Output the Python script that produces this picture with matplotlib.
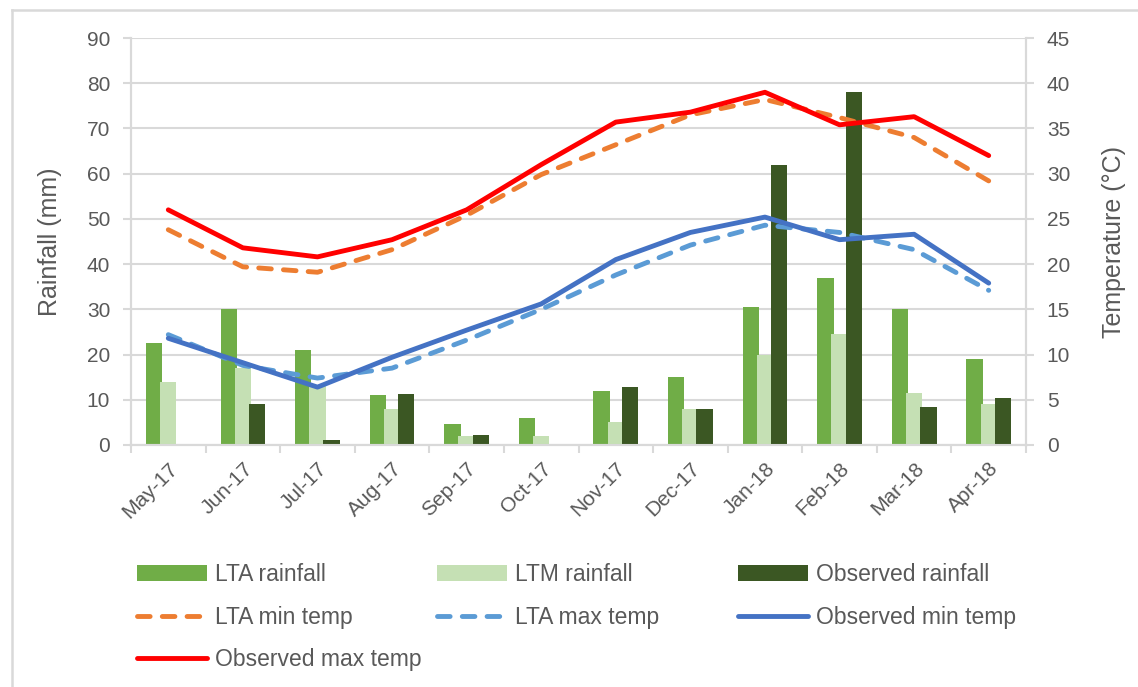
import matplotlib
matplotlib.use("Agg")
import matplotlib.pyplot as plt
import numpy as np
from matplotlib.lines import Line2D

months = ["May-17", "Jun-17", "Jul-17", "Aug-17", "Sep-17", "Oct-17",
          "Nov-17", "Dec-17", "Jan-18", "Feb-18", "Mar-18", "Apr-18"]
lta_rain = [22.5, 30, 21, 11, 4.7, 6, 12, 15, 30.5, 37, 30, 19]
ltm_rain = [14, 17, 13, 8, 2, 2, 5, 8, 20, 24.5, 11.5, 9]
obs_rain = [0, 9, 1.2, 11.3, 2.2, 0, 12.8, 8, 62, 78, 8.5, 10.5]
lta_min_temp = [23.8, 19.7, 19.1, 21.6, 25.4, 29.9, 33.2, 36.5, 38.2, 36.2, 34, 29.2]
lta_max_temp = [12.2, 8.8, 7.4, 8.5, 11.6, 15, 18.8, 22.1, 24.3, 23.5, 21.6, 17.1]
obs_min_temp = [11.8, 9.1, 6.4, 9.7, 12.7, 15.6, 20.5, 23.5, 25.2, 22.7, 23.3, 17.9]
obs_max_temp = [26.0, 21.8, 20.8, 22.7, 26.0, 31.0, 35.7, 36.8, 39.0, 35.4, 36.3, 32.0]

plt.rcParams['font.family'] = ['Liberation Sans', 'DejaVu Sans']

W, H = 1138, 687
fig = plt.figure(figsize=(W / 100, H / 100), dpi=100)
frame_c = '#d9d9d9'
fig.add_artist(Line2D([12 / W, 12 / W], [0, 1 - 10 / H], transform=fig.transFigure,
                      color=frame_c, lw=1.8))
fig.add_artist(Line2D([12 / W, 1], [1 - 10 / H, 1 - 10 / H], transform=fig.transFigure,
                      color=frame_c, lw=1.8))

ax = fig.add_axes([131 / W, 1 - 445 / H, (1026 - 131) / W, (445 - 38) / H])
ax2 = ax.twinx()

x = np.arange(len(months))
w = 0.22
step = 0.19
grid_c = '#d9d9d9'
txt_c = '#595959'
b1 = ax.bar(x - step, lta_rain, w, color='#70AD47', zorder=2, label='LTA rainfall')
b2 = ax.bar(x, ltm_rain, w, color='#C5E0B4', zorder=3, label='LTM rainfall')
b3 = ax.bar(x + step, obs_rain, w, color='#3B5723', zorder=4, label='Observed rainfall')

lw = 3.5
dash = (0, (2.6, 2.5))
l1, = ax2.plot(x, lta_min_temp, color='#ED7D31', lw=lw, ls=dash, dash_capstyle='round',
               solid_capstyle='round', label='LTA min temp')
l2, = ax2.plot(x, lta_max_temp, color='#5B9BD5', lw=lw, ls=dash, dash_capstyle='round',
               solid_capstyle='round', label='LTA max temp')
l3, = ax2.plot(x, obs_min_temp, color='#4472C4', lw=lw, solid_capstyle='round',
               label='Observed min temp')
l4, = ax2.plot(x, obs_max_temp, color='#FF0000', lw=lw, solid_capstyle='round',
               label='Observed max temp')

ax.set_xlim(-0.5, len(months) - 0.5)
ax.set_ylim(0, 90)
ax.set_yticks(np.arange(0, 91, 10))
ax2.set_ylim(0, 45)
ax2.set_yticks(np.arange(0, 46, 5))
ax.yaxis.grid(True, color=grid_c, lw=1.5, zorder=0)
ax.set_axisbelow(True)

ax.set_xticks(x)
ax.set_xticklabels(months, rotation=45, ha='right', rotation_mode='anchor',
                   fontsize=15, color=txt_c)
ax.set_xticks(np.arange(-0.5, len(months), 1), minor=True)
ax.tick_params(axis='x', which='major', length=0, pad=10)
ax.tick_params(axis='x', which='minor', length=6, color=grid_c, width=1.5)
ax.tick_params(axis='y', length=6, color=grid_c, width=1.5, labelsize=15,
               labelcolor=txt_c, pad=9)
ax2.tick_params(axis='y', length=6, color=grid_c, width=1.5, labelsize=15,
                labelcolor=txt_c, pad=9)

for a in (ax, ax2):
    a.spines['top'].set_visible(False)
    for s in ['left', 'right', 'bottom']:
        a.spines[s].set_color(grid_c)
        a.spines[s].set_linewidth(1.5)

ax.set_ylabel('Rainfall (mm)', fontsize=18, color=txt_c, labelpad=18)
ax2.set_ylabel('Temperature (°C)', fontsize=18, color=txt_c, labelpad=23)

cols = [([b1, l1, l4], 137), ([b2, l2], 437), ([b3, l3], 738)]
for hs, px in cols:
    leg = fig.legend(hs, [h.get_label() for h in hs], loc='upper left',
                     bbox_to_anchor=(px / W, 1 - 563 / H), frameon=False,
                     fontsize=16.5, handlelength=3.05, handletextpad=0.35,
                     labelspacing=0.86, borderpad=0, borderaxespad=0,
                     labelcolor=txt_c)

fig.savefig('out.png', dpi=100)
